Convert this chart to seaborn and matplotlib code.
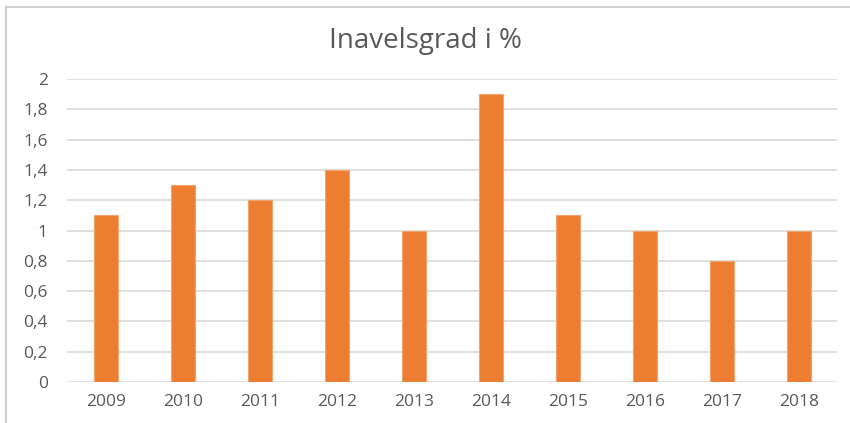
import matplotlib
matplotlib.use("Agg")
import matplotlib.pyplot as plt
from matplotlib.patches import Rectangle
import seaborn as sns
import pandas as pd

years = ["2009", "2010", "2011", "2012", "2013", "2014", "2015", "2016", "2017", "2018"]
values = [1.1, 1.3, 1.2, 1.4, 1.0, 1.9, 1.1, 1.0, 0.8, 1.0]
yticks = [0, 0.2, 0.4, 0.6, 0.8, 1, 1.2, 1.4, 1.6, 1.8, 2]

df = pd.DataFrame({"year": years, "value": values})

sns.set_style("white")
plt.rcParams['font.family'] = ['Open Sans', 'DejaVu Sans']

fig = plt.figure(figsize=(8.5, 4.23), dpi=100)
ax = fig.add_axes([0.079, 0.097, 0.906, 0.716])

sns.barplot(data=df, x="year", y="value", color="#ED7D31", width=0.31,
            saturation=1, ax=ax, zorder=3, edgecolor="#F3A46E", linewidth=0.8)

ax.set_ylim(0, 2)
ax.set_yticks(yticks)
ax.set_yticklabels([str(t).replace(".", ",") for t in yticks])
ax.yaxis.grid(True, color="#D9D9D9", linewidth=1.2, zorder=0)
ax.set_axisbelow(True)
for s in ax.spines.values():
    s.set_visible(False)
ax.tick_params(axis="both", length=0, labelsize=12.5, labelcolor="#595959")
ax.tick_params(axis="x", pad=9)
ax.tick_params(axis="y", pad=14)
ax.set_xlabel("")
ax.set_ylabel("")
ax.set_xlim(-0.5, 9.5)

fig.text(0.5, 1 - 48 / 423, "Inavelsgrad i %", ha="center", va="baseline",
         fontsize=20, color="#595959")

fig.patches.append(Rectangle((6 / 850, -0.05), 1.1, 1 - 7 / 423 + 0.05,
                             transform=fig.transFigure, fill=False,
                             edgecolor="#D0D0D0", linewidth=1.5))

fig.savefig("out.png", dpi=100)
